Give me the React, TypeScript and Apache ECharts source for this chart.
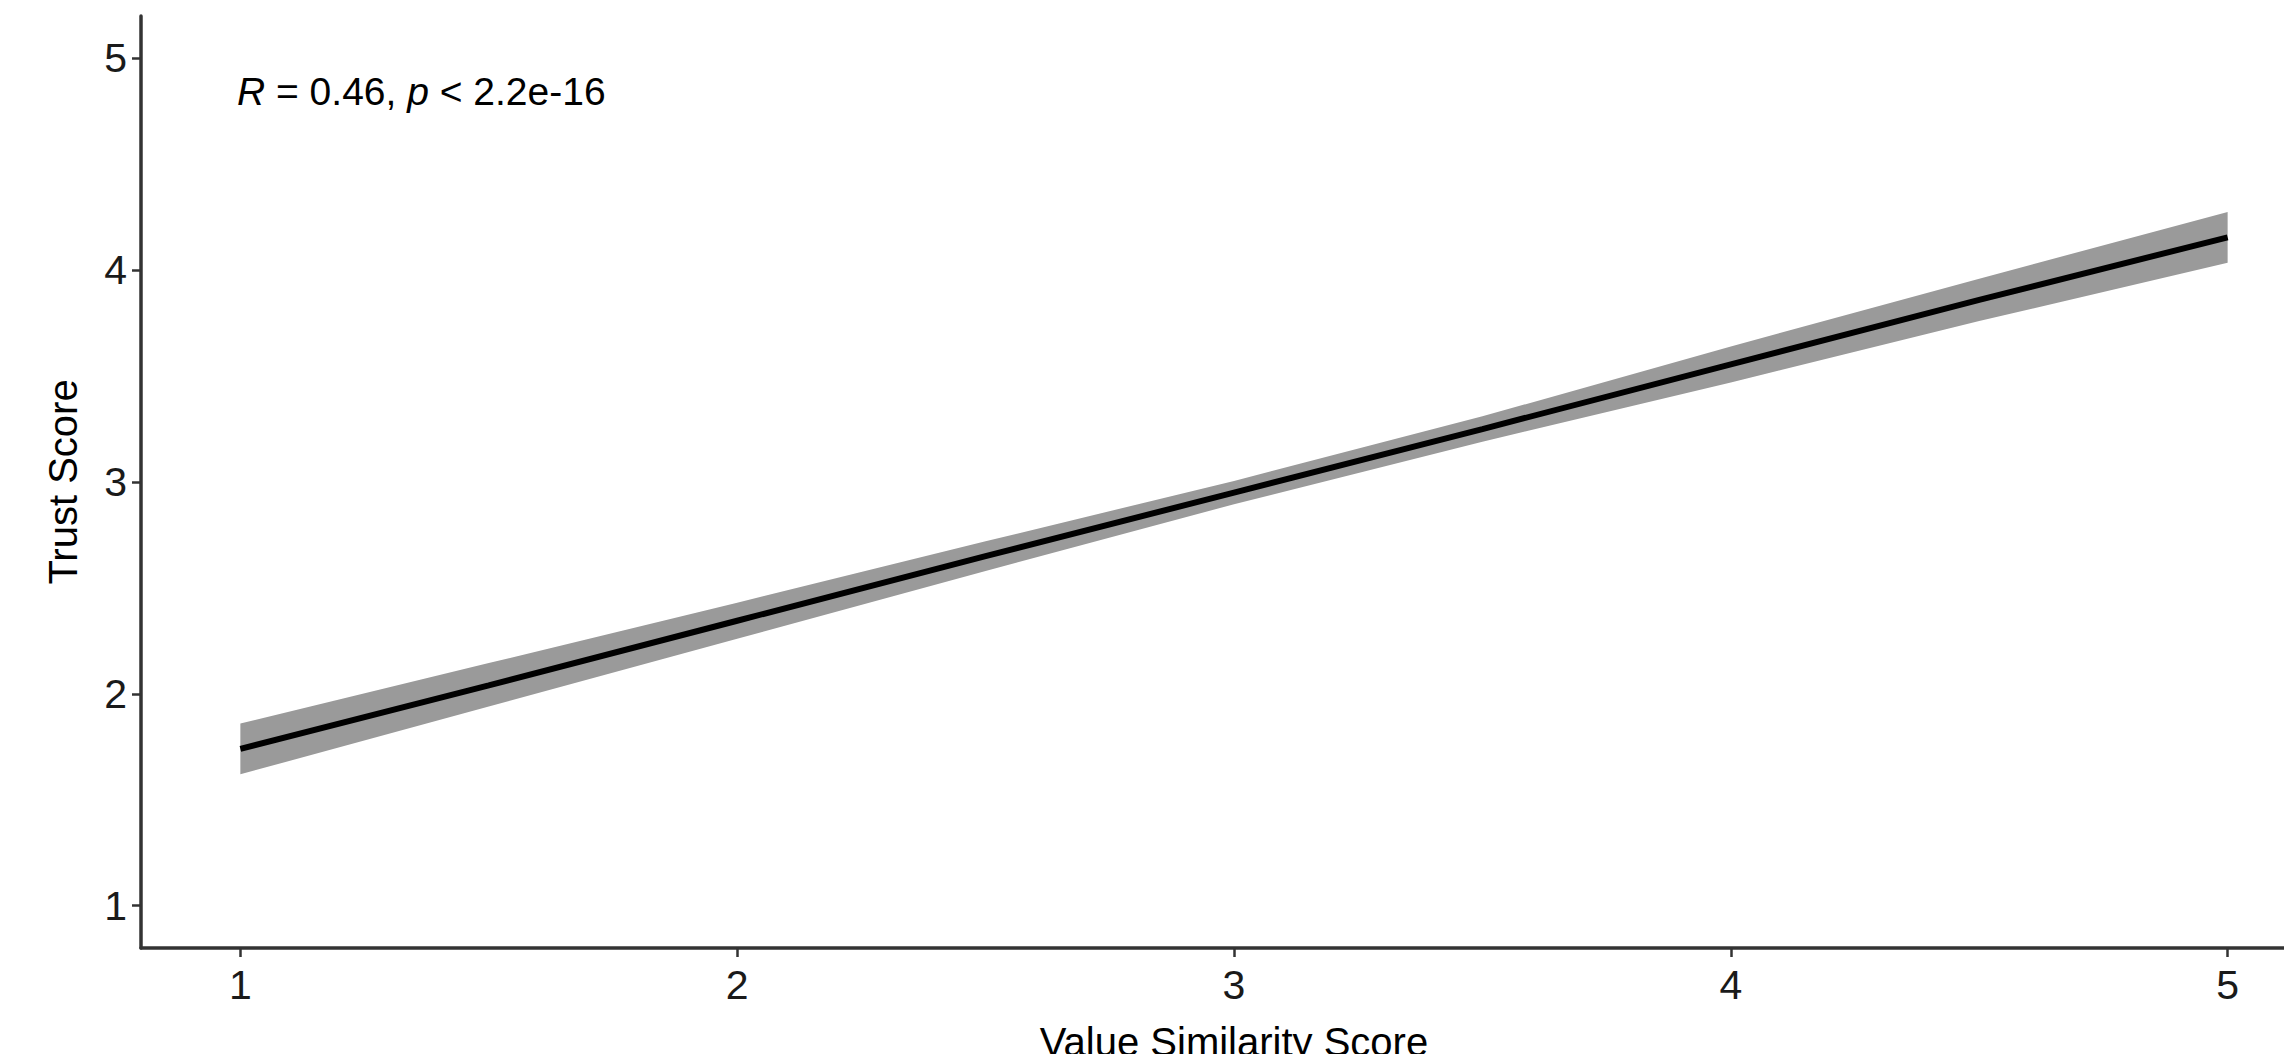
import React, { useEffect, useRef } from "react";
import * as echarts from "echarts";

// Regression fit (Value Similarity -> Trust) with its 95% confidence band
const xValues = [1, 1.5, 2, 2.5, 3, 3.5, 4, 4.5, 5];
const fitValues = [1.74, 2.04, 2.345, 2.65, 2.95, 3.25, 3.555, 3.86, 4.155];
const lowerValues = [1.62, 1.94, 2.26, 2.58, 2.895, 3.19, 3.47, 3.76, 4.035];
const upperValues = [1.86, 2.145, 2.43, 2.72, 3.005, 3.31, 3.64, 3.96, 4.275];
const xTicks = [1, 2, 3, 4, 5];
const yTicks = [1, 2, 3, 4, 5];
const annotation = "{i|R} = 0.46, {i|p} < 2.2e-16";

const FONT = "'Liberation Sans', Arial, sans-serif";

export default function App() {
  const ref = useRef<HTMLDivElement>(null);
  useEffect(() => {
    const chart = echarts.init(ref.current!, null, { renderer: "svg" });
    const axisColor = "#333333";
    chart.setOption({
      animation: false,
      backgroundColor: "#ffffff",
      grid: {
        left: 141,
        top: 16,
        width: 2186,
        height: 932,
        containLabel: false,
        outerBoundsMode: "none",
      },
      xAxis: {
        type: "value",
        min: 0.8,
        max: 5.2,
        splitLine: { show: false },
        axisLine: { show: true, onZero: false, lineStyle: { color: axisColor, width: 3.5 } },
        axisTick: { show: true, length: 9, customValues: xTicks, lineStyle: { color: axisColor, width: 2.5 } },
        axisLabel: {
          customValues: xTicks,
          margin: 16,
          fontSize: 41,
          fontFamily: FONT,
          color: "#1a1a1a",
        },
        name: "Value Similarity Score",
        nameLocation: "middle",
        nameGap: 74,
        nameTextStyle: { fontSize: 40, fontFamily: FONT, color: "#000" },
      },
      yAxis: {
        type: "value",
        min: 0.8,
        max: 5.2,
        splitLine: { show: false },
        axisLine: { show: true, onZero: false, lineStyle: { color: axisColor, width: 3.5 } },
        axisTick: { show: true, length: 9, customValues: yTicks, lineStyle: { color: axisColor, width: 2.5 } },
        axisLabel: {
          customValues: yTicks,
          margin: 14,
          fontSize: 41,
          fontFamily: FONT,
          color: "#1a1a1a",
        },
        name: "Trust Score",
        nameLocation: "middle",
        nameGap: 58,
        nameTextStyle: { fontSize: 40, fontFamily: FONT, color: "#000" },
      },
      graphic: [
        {
          type: "text",
          left: 237,
          top: 72,
          style: {
            text: annotation,
            fontSize: 39,
            fontFamily: FONT,
            fill: "#000",
            rich: { i: { fontStyle: "italic", fontSize: 39, fontFamily: FONT, fill: "#000" } },
          },
        },
      ],
      series: [
        {
          type: "custom",
          name: "95% CI",
          coordinateSystem: "cartesian2d",
          data: [[xValues[0], fitValues[0]]],
          z: 1,
          renderItem: (_params: any, api: any) => {
            const pts: number[][] = [];
            for (let i = 0; i < xValues.length; i++) pts.push(api.coord([xValues[i], upperValues[i]]));
            for (let i = xValues.length - 1; i >= 0; i--) pts.push(api.coord([xValues[i], lowerValues[i]]));
            return {
              type: "polygon",
              shape: { points: pts },
              style: { fill: "#9a9a9a", stroke: "none" },
            };
          },
        },
        {
          type: "line",
          name: "Fit",
          data: xValues.map((x, i) => [x, fitValues[i]]),
          showSymbol: false,
          symbol: "none",
          z: 3,
          lineStyle: { color: "#000000", width: 6 },
        },
      ],
    });
    return () => chart.dispose();
  }, []);
  return (
    <div
      ref={ref}
      style={{ position: "absolute", left: 0, top: 0, width: 2284, height: 1054 }}
    />
  );
}
